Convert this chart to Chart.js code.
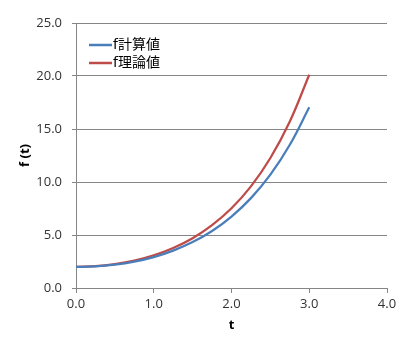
<!DOCTYPE html>
<html>
<head>
<meta charset="utf-8">
<script src="https://cdn.jsdelivr.net/npm/chart.js@4"></script>
<style>
  body { margin: 0; background: #fff; }
</style>
</head>
<body>
<canvas id="wykres" width="412" height="347"></canvas>
<script>
// wartości
const tValues = [0, 0.25, 0.5, 0.75, 1.0, 1.25, 1.5, 1.75, 2.0, 2.25, 2.5, 2.75, 3.0];
const fObliczone = [2.00, 2.03, 2.20, 2.49, 2.92, 3.53, 4.33, 5.38, 6.74, 8.48, 10.69, 13.51, 17.05];
const fTeoretyczne = [2.00, 2.06, 2.26, 2.59, 3.09, 3.78, 4.70, 5.93, 7.52, 9.59, 12.26, 15.71, 20.12];
const seriesNames = ["f計算値", "f理論値"];
const xTicks = [0, 1, 2, 3, 4];
const yTicks = [0, 5, 10, 15, 20, 25];

const GRID = "#868686";
const TEXT = "#333333";

function punkty(ys) {
  return tValues.map((t, i) => ({ x: t, y: ys[i] }));
}

// legenda wewnątrz obszaru wykresu
const legendaWewnatrz = {
  id: "legendaWewnatrz",
  afterDraw(chart) {
    const ctx = chart.ctx;
    ctx.save();
    ctx.font = "14px 'DejaVu Sans', 'Noto Sans CJK JP', sans-serif";
    ctx.textBaseline = "middle";
    chart.data.datasets.forEach((ds, i) => {
      const y = 45 + i * 18;
      ctx.strokeStyle = ds.borderColor;
      ctx.lineWidth = 2.5;
      ctx.beginPath();
      ctx.moveTo(89, y);
      ctx.lineTo(112, y);
      ctx.stroke();
      ctx.fillStyle = "#000";
      ctx.fillText(ds.label, 113, y);
    });
    ctx.restore();
  },
};

new Chart(document.getElementById("wykres"), {
  type: "line",
  data: {
    datasets: [
      {
        label: seriesNames[0],
        data: punkty(fObliczone),
        borderColor: "#4A7EBB",
        borderWidth: 2.25,
        pointRadius: 0,
        tension: 0.4,
        fill: false,
      },
      {
        label: seriesNames[1],
        data: punkty(fTeoretyczne),
        borderColor: "#BE4B48",
        borderWidth: 2.25,
        pointRadius: 0,
        tension: 0.4,
        fill: false,
      },
    ],
  },
  options: {
    responsive: false,
    animation: false,
    layout: {
      autoPadding: false,
      padding: { left: 0, top: 23, right: 25, bottom: 0 },
    },
    plugins: {
      legend: { display: false },
      tooltip: { enabled: false },
    },
    scales: {
      x: {
        type: "linear",
        min: xTicks[0],
        max: xTicks[xTicks.length - 1],
        afterBuildTicks: (scale) => {
          scale.ticks = xTicks.map((v) => ({ value: v }));
        },
        afterFit: (scale) => {
          scale.height = 59;
        },
        border: { color: GRID, width: 1 },
        grid: { drawOnChartArea: false, drawTicks: true, tickLength: 5, color: GRID },
        ticks: {
          padding: 3,
          color: TEXT,
          font: { family: "'Open Sans', sans-serif", size: 13 },
          maxRotation: 0,
          callback: (v) => Number(v).toFixed(1),
        },
        title: {
          display: true,
          text: "t",
          color: "#000",
          font: { family: "'Open Sans', sans-serif", size: 13, weight: "bold" },
          padding: { top: 0, bottom: 14 },
        },
      },
      y: {
        type: "linear",
        min: yTicks[0],
        max: yTicks[yTicks.length - 1],
        afterBuildTicks: (scale) => {
          scale.ticks = yTicks.map((v) => ({ value: v }));
        },
        afterFit: (scale) => {
          scale.width = 76;
        },
        border: { color: GRID, width: 1 },
        grid: { color: GRID, tickLength: 4 },
        ticks: {
          padding: 10,
          color: TEXT,
          font: { family: "'Open Sans', sans-serif", size: 13 },
          callback: (v) => Number(v).toFixed(1),
        },
        title: {
          display: true,
          text: "f (t)",
          color: "#000",
          font: { family: "'Open Sans', sans-serif", size: 13, weight: "bold" },
          padding: { top: 17, bottom: 0 },
        },
      },
    },
  },
  plugins: [legendaWewnatrz],
});
</script>
</body>
</html>
